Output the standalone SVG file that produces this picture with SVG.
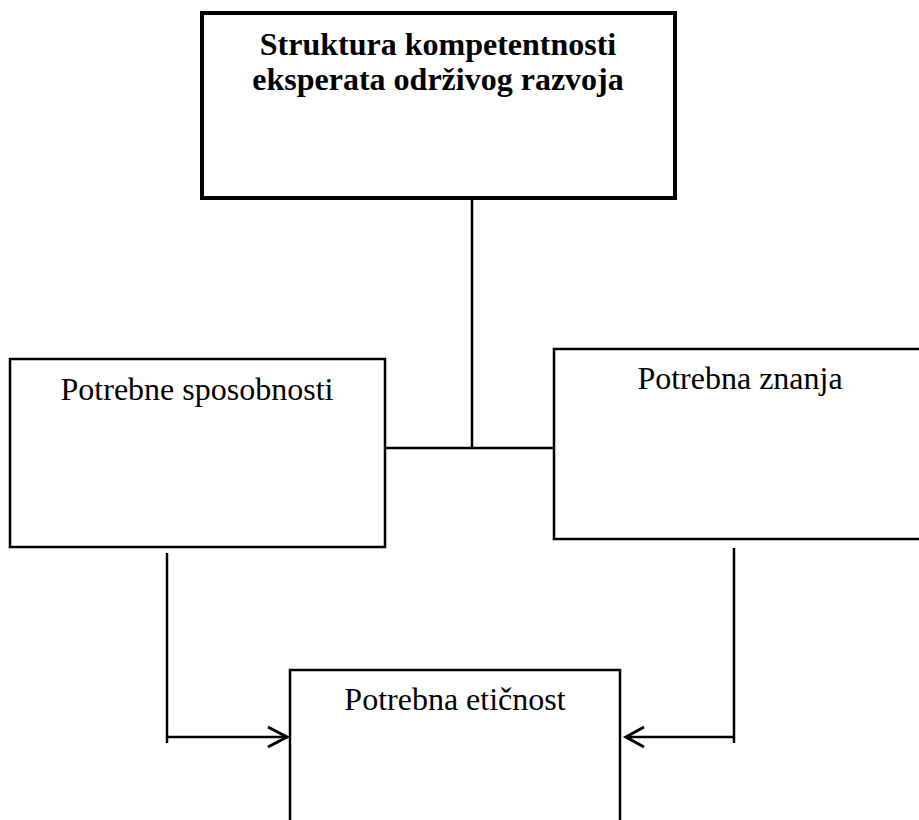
<svg xmlns="http://www.w3.org/2000/svg" width="919" height="820" viewBox="0 0 919 820">
<style>
.box{fill:#fff;stroke:#000;stroke-width:2.5}
.main{fill:#fff;stroke:#000;stroke-width:4}
.t{font-family:"Liberation Serif","Times New Roman",serif;font-size:32px;fill:#000;text-anchor:middle}
.b{font-weight:bold;font-size:32px}
.c{stroke:#000;stroke-width:2.5;fill:none}
.ah{stroke:#000;stroke-width:3;fill:none}
</style>
<rect width="919" height="820" fill="#fff"/>
<g id="connectors">
<line class="c" x1="472" y1="200" x2="472" y2="447"/>
<line class="c" x1="384" y1="448" x2="554" y2="448"/>
<line class="c" x1="167" y1="553" x2="167" y2="743"/>
<line class="c" x1="166" y1="737" x2="286" y2="737"/>
<polyline class="ah" points="268,727 287,737 268,747"/>
<line class="c" x1="734" y1="548" x2="734" y2="743"/>
<line class="c" x1="735" y1="737" x2="628" y2="737"/>
<polyline class="ah" points="644,727 626,737 644,747"/>
</g>
<g id="node-struktura">
<rect class="main" x="202" y="13" width="473" height="185"/>
<text class="t b" x="438" y="55">Struktura kompetentnosti</text>
<text class="t b" x="438" y="90">eksperata održivog razvoja</text>
</g>
<g id="node-sposobnosti">
<rect class="box" x="10" y="359" width="375" height="188"/>
<text class="t" x="197" y="400">Potrebne sposobnosti</text>
</g>
<g id="node-znanja">
<rect class="box" x="554" y="349" width="372" height="190"/>
<text class="t" x="740" y="389">Potrebna znanja</text>
</g>
<g id="node-eticnost">
<rect class="box" x="290" y="670" width="330" height="170"/>
<text class="t" x="455" y="710">Potrebna etičnost</text>
</g>
</svg>
